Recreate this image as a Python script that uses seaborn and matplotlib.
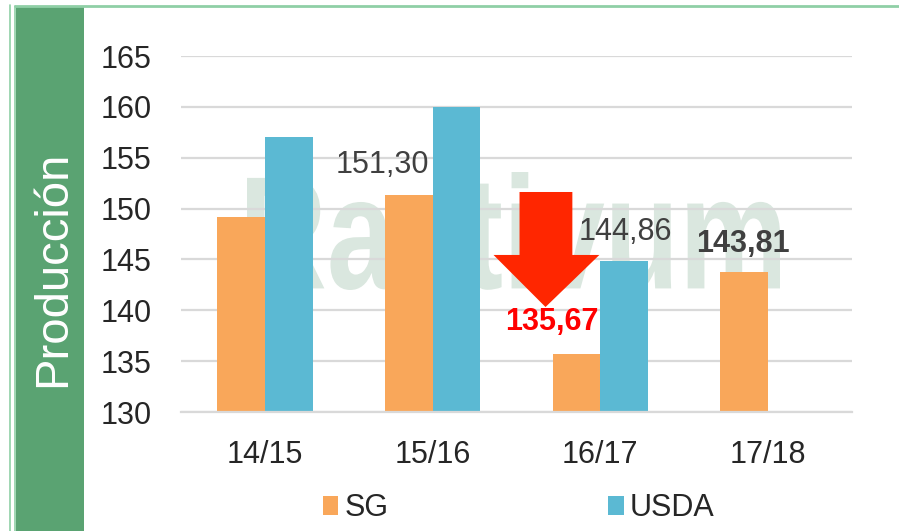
import matplotlib
matplotlib.use("Agg")
import matplotlib.pyplot as plt
import seaborn as sns
import pandas as pd
from matplotlib.patches import Rectangle, Polygon, PathPatch
from matplotlib.textpath import TextPath
from matplotlib.font_manager import FontProperties
from matplotlib.transforms import Affine2D
from matplotlib.lines import Line2D

# ---- data ----
categories = ["14/15", "15/16", "16/17", "17/18"]
sg_values = [149.2, 151.30, 135.67, 143.81]
usda_values = [157.0, 160.0, 144.86, None]
series_names = ["SG", "USDA"]
y_ticks = [130, 135, 140, 145, 150, 155, 160, 165]
y_label = "Producción"
watermark = "Rastivum"

# annotations: (text, x index, baseline y, color, weight)
annotations = [
    ("151,30", 0.702, 153.5, "#404040", "normal"),
    ("144,86", 2.149, 146.9, "#404040", "normal"),
    ("143,81", 2.848, 145.7, "#404040", "bold"),
    ("135,67", 1.708, 138.05, "#FF0000", "bold"),
]
# arrow (data coords): shaft x, head x, tip x, top y, shoulder y, tip y
arrow_shaft = (1.518, 1.833)
arrow_head = (1.363, 1.994)
arrow_tip_x = 1.673
arrow_y = (151.63, 145.44, 140.32)

orange = "#F9A75A"
blue = "#5BB9D3"

rows = []
for c, v in zip(categories, sg_values):
    rows.append({"Campaña": c, "Fuente": "SG", "Valor": v})
for c, v in zip(categories, usda_values):
    if v is not None:
        rows.append({"Campaña": c, "Fuente": "USDA", "Valor": v})
df = pd.DataFrame(rows)

sns.set_theme(style="white")
plt.rcParams['font.family'] = ['Liberation Sans', 'DejaVu Sans']

W, H = 899, 531
fig = plt.figure(figsize=(W / 100, H / 100), dpi=100)
fig.patch.set_facecolor("white")

# decorative frame
fig.patches.append(Rectangle((16 / W, 0), 68 / W, (H - 6) / H, transform=fig.transFigure,
                             facecolor="#5AA372", edgecolor="none", zorder=0))
fig.lines.append(Line2D([10 / W, 10 / W], [0, 1 - 5 / H], transform=fig.transFigure,
                        color="#8FCFA6", lw=1.2))
fig.lines.append(Line2D([15 / W, 15 / W], [0, 1 - 6 / H], transform=fig.transFigure,
                        color="#8FCFA6", lw=1.2))
fig.lines.append(Line2D([15 / W, 1], [1 - 6 / H, 1 - 6 / H], transform=fig.transFigure,
                        color="#8FCFA6", lw=2))

ax = fig.add_axes([181 / W, 1 - 412 / H, 671 / W, 356 / H])
sns.barplot(data=df, x="Campaña", y="Valor", hue="Fuente", hue_order=series_names,
            order=categories, palette=[orange, blue], width=0.57, ax=ax,
            saturation=1, legend=False, linewidth=0)

ax.set_ylim(130, 165)
ax.set_xlim(-0.5, 3.5)
ax.set_yticks(y_ticks)
ax.set_xlabel("")
ax.set_ylabel("")
ax.set_axisbelow(True)
ax.yaxis.grid(True, color="#D9D9D9", lw=1.6)
ax.xaxis.grid(False)
for s in ["left", "right", "top"]:
    ax.spines[s].set_visible(False)
ax.spines["bottom"].set_color("#D9D9D9")
ax.spines["bottom"].set_linewidth(1.6)
ax.tick_params(axis="y", length=0, labelsize=22, colors="#262626", pad=21)
ax.tick_params(axis="x", length=0, labelsize=22, colors="#262626", pad=20)

# watermark stretched into its box
fp = FontProperties(family="Liberation Sans", weight="bold")
tp = TextPath((0, 0), watermark, size=1, prop=fp)
bb = tp.get_extents()
bx0, by0, bw, bh = 247 / W, 1 - 290 / H, 533 / W, 118 / H
tr = Affine2D().translate(-bb.x0, -bb.y0).scale(bw / bb.width, bh / bb.height).translate(bx0, by0)
wm = PathPatch(tr.transform_path(tp), facecolor="#DAE7DF", edgecolor="none",
               transform=fig.transFigure, zorder=0.3, clip_on=False)
ax.add_patch(wm)

# red arrow
xs0, xs1 = arrow_shaft
xh0, xh1 = arrow_head
yt, ys, ytip = arrow_y
arrow = Polygon([(xs0, yt), (xs1, yt), (xs1, ys), (xh1, ys), (arrow_tip_x, ytip),
                 (xh0, ys), (xs0, ys)], closed=True, facecolor="#FF2600",
                edgecolor="none", zorder=4)
ax.add_patch(arrow)

for txt, x, y, col, wt in annotations:
    ax.text(x, y, txt, ha="center", va="baseline", fontsize=22, color=col,
            fontweight=wt, zorder=5)

# legend
handles = [Rectangle((0, 0), 1, 1, facecolor=orange, edgecolor="none"),
           Rectangle((0, 0), 1, 1, facecolor=blue, edgecolor="none")]
leg = fig.legend(handles, series_names, loc="center", bbox_to_anchor=(0.577, 0.043),
                 ncol=2, frameon=False, fontsize=22, handlelength=0.5, handleheight=0.55,
                 handletextpad=0.2, columnspacing=7.2, labelcolor="#262626")

fig.text(53 / W, 1 - 269 / H, y_label, rotation=90, ha="center", va="center",
         fontsize=34, color="white")

fig.savefig("out.png", dpi=100, facecolor="white")
